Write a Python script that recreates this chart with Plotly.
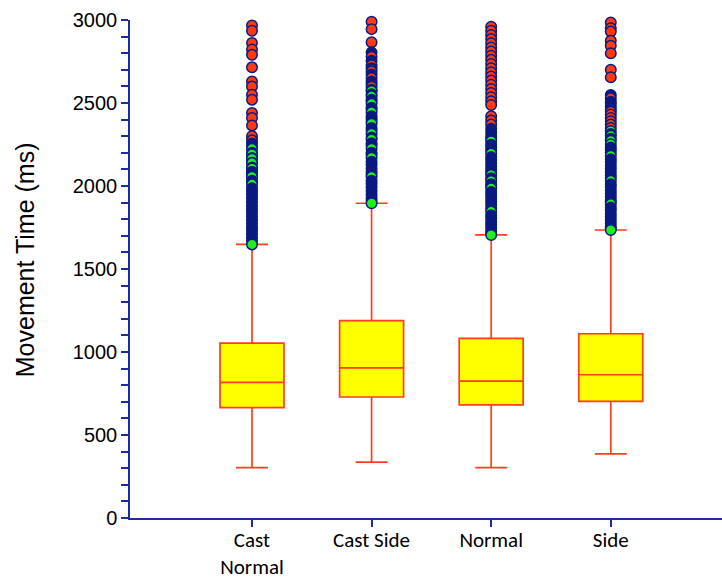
import plotly.graph_objects as go

# Conditions and box statistics (ms)
categories = ["Cast Normal", "Cast Side", "Normal", "Side"]
tick_labels = ["Cast<br>Normal", "Cast Side", "Normal", "Side"]
q1 = [665, 729, 681, 703]
median = [817, 904, 825, 863]
q3 = [1054, 1189, 1082, 1110]
lower_whisker = [303, 337, 303, 386]
upper_whisker = [1648, 1896, 1705, 1735]

# Points beyond the upper whisker, grouped by marker colour
red_cast_normal = [2967, 2935, 2862, 2822, 2790, 2715, 2630, 2600, 2550, 2520,
                   2440, 2410, 2365, 2300, 2275]
green_cast_normal = [2224, 2192, 2164, 2138, 2106, 2084, 2056, 2010, 1648]
navy_cast_normal = [1668, 1690, 1711, 1733, 1752, 1774, 1797, 1818, 1840, 1861,
                    1883, 1905, 1926, 1948, 1969, 1986, 2024, 2032, 2062, 2084,
                    2112, 2140, 2168, 2200, 2236, 2256]

red_cast_side = [2990, 2945, 2866, 2778, 2728, 2690, 2650, 2598]
green_cast_side = [2572, 2540, 2495, 2445, 2375, 2315, 2280, 2225, 2170, 2055, 1896]
navy_cast_side = [2805, 2755, 2710, 2672, 2630, 2615, 2580, 2552, 2520, 2510,
                  2472, 2462, 2420, 2405, 2390, 2350, 2335, 2292, 2258, 2244,
                  2200, 2188, 2146, 2128, 2106, 2084, 2070, 2032, 2014, 1992,
                  1970, 1948, 1926, 1910]

red_normal = [2960, 2935, 2910, 2885, 2860, 2835, 2810, 2785, 2760, 2735,
              2710, 2685, 2660, 2635, 2610, 2585, 2560, 2535, 2510, 2488,
              2420, 2395, 2370]
green_normal = [2270, 2196, 2066, 2030, 1986, 1846, 1705]
navy_normal = [2345, 2322, 2300, 2285, 2248, 2232, 2214, 2174, 2158, 2138,
               2118, 2098, 2082, 2046, 2010, 2002, 1964, 1948, 1928, 1908,
               1888, 1866, 1824, 1808, 1788, 1768, 1748, 1728, 1716]

red_side = [2985, 2950, 2930, 2875, 2845, 2800, 2700, 2655, 2528, 2448,
            2430, 2410, 2390, 2370, 2350]
green_side = [2332, 2302, 2272, 2252, 2182, 2031, 1891, 1735]
navy_side = [2548, 2508, 2495, 2478, 2462, 2314, 2284, 2232, 2218, 2200,
             2161, 2145, 2125, 2105, 2085, 2065, 2048, 2011, 1995, 1975,
             1955, 1935, 1915, 1905, 1871, 1855, 1835, 1815, 1795, 1775,
             1755, 1745]

outlier_groups = [
    (red_cast_normal, green_cast_normal, navy_cast_normal),
    (red_cast_side, green_cast_side, navy_cast_side),
    (red_normal, green_normal, navy_normal),
    (red_side, green_side, navy_side),
]

RED = "#ff3a12"
GREEN = "#1ef01e"
NAVY = "#0a1a80"
AXIS = "#1f2e96"
BOX_LINE = "#ff3d1f"
BOX_FILL = "#ffff00"

fig = go.Figure()

for i, name in enumerate(categories):
    fig.add_trace(go.Box(
        x=[i], q1=[q1[i]], median=[median[i]], q3=[q3[i]],
        lowerfence=[lower_whisker[i]], upperfence=[upper_whisker[i]],
        name=name, boxpoints=False, width=0.535, whiskerwidth=0.5,
        fillcolor=BOX_FILL, line=dict(color=BOX_LINE, width=1.7),
        hoverinfo="skip",
    ))

for i, (reds, greens, navies) in enumerate(outlier_groups):
    pts = [(v, RED) for v in reds] + [(v, GREEN) for v in greens] + [(v, NAVY) for v in navies]
    # highest values first so lower points sit on top
    pts.sort(key=lambda p: -p[0])
    fig.add_trace(go.Scatter(
        x=[i] * len(pts), y=[p[0] for p in pts], mode="markers",
        marker=dict(size=10.5, color=[p[1] for p in pts],
                    line=dict(color=NAVY, width=1.5)),
        cliponaxis=False, hoverinfo="skip", showlegend=False,
    ))

fig.add_annotation(
    text="Movement Time (ms)", textangle=-90, showarrow=False,
    xref="paper", yref="paper", x=-0.177, y=0.518,
    xanchor="center", yanchor="middle",
    font=dict(family="Liberation Sans, Arial", size=25, color="black"),
)

fig.update_layout(
    width=722, height=578,
    margin=dict(l=130, r=0, t=20, b=60, autoexpand=False),
    paper_bgcolor="white", plot_bgcolor="white",
    showlegend=False,
    xaxis=dict(
        range=[-1.02, 3.93], tickmode="array", tickvals=[0, 1, 2, 3],
        ticktext=tick_labels, showgrid=False, zeroline=False, automargin=False,
        showline=True, linecolor=AXIS, linewidth=1.5,
        ticks="outside", ticklen=7, tickwidth=1.5, tickcolor=AXIS,
        ticklabelstandoff=-5,
        tickfont=dict(family="Calibri, Carlito, Lato", size=21, color="black"),
    ),
    yaxis=dict(
        range=[0, 3000], tickmode="linear", tick0=0, dtick=500,
        showgrid=False, zeroline=False, automargin=False,
        showline=True, linecolor=AXIS, linewidth=1.5,
        ticks="outside", ticklen=7, tickwidth=1.5, tickcolor=AXIS,
        minor=dict(dtick=100, ticks="outside", ticklen=7, tickwidth=1.5,
                   tickcolor=AXIS, showgrid=False),
        tickfont=dict(family="Liberation Sans, Arial", size=20, color="black"),
    ),
)

fig.write_html("out.html")
